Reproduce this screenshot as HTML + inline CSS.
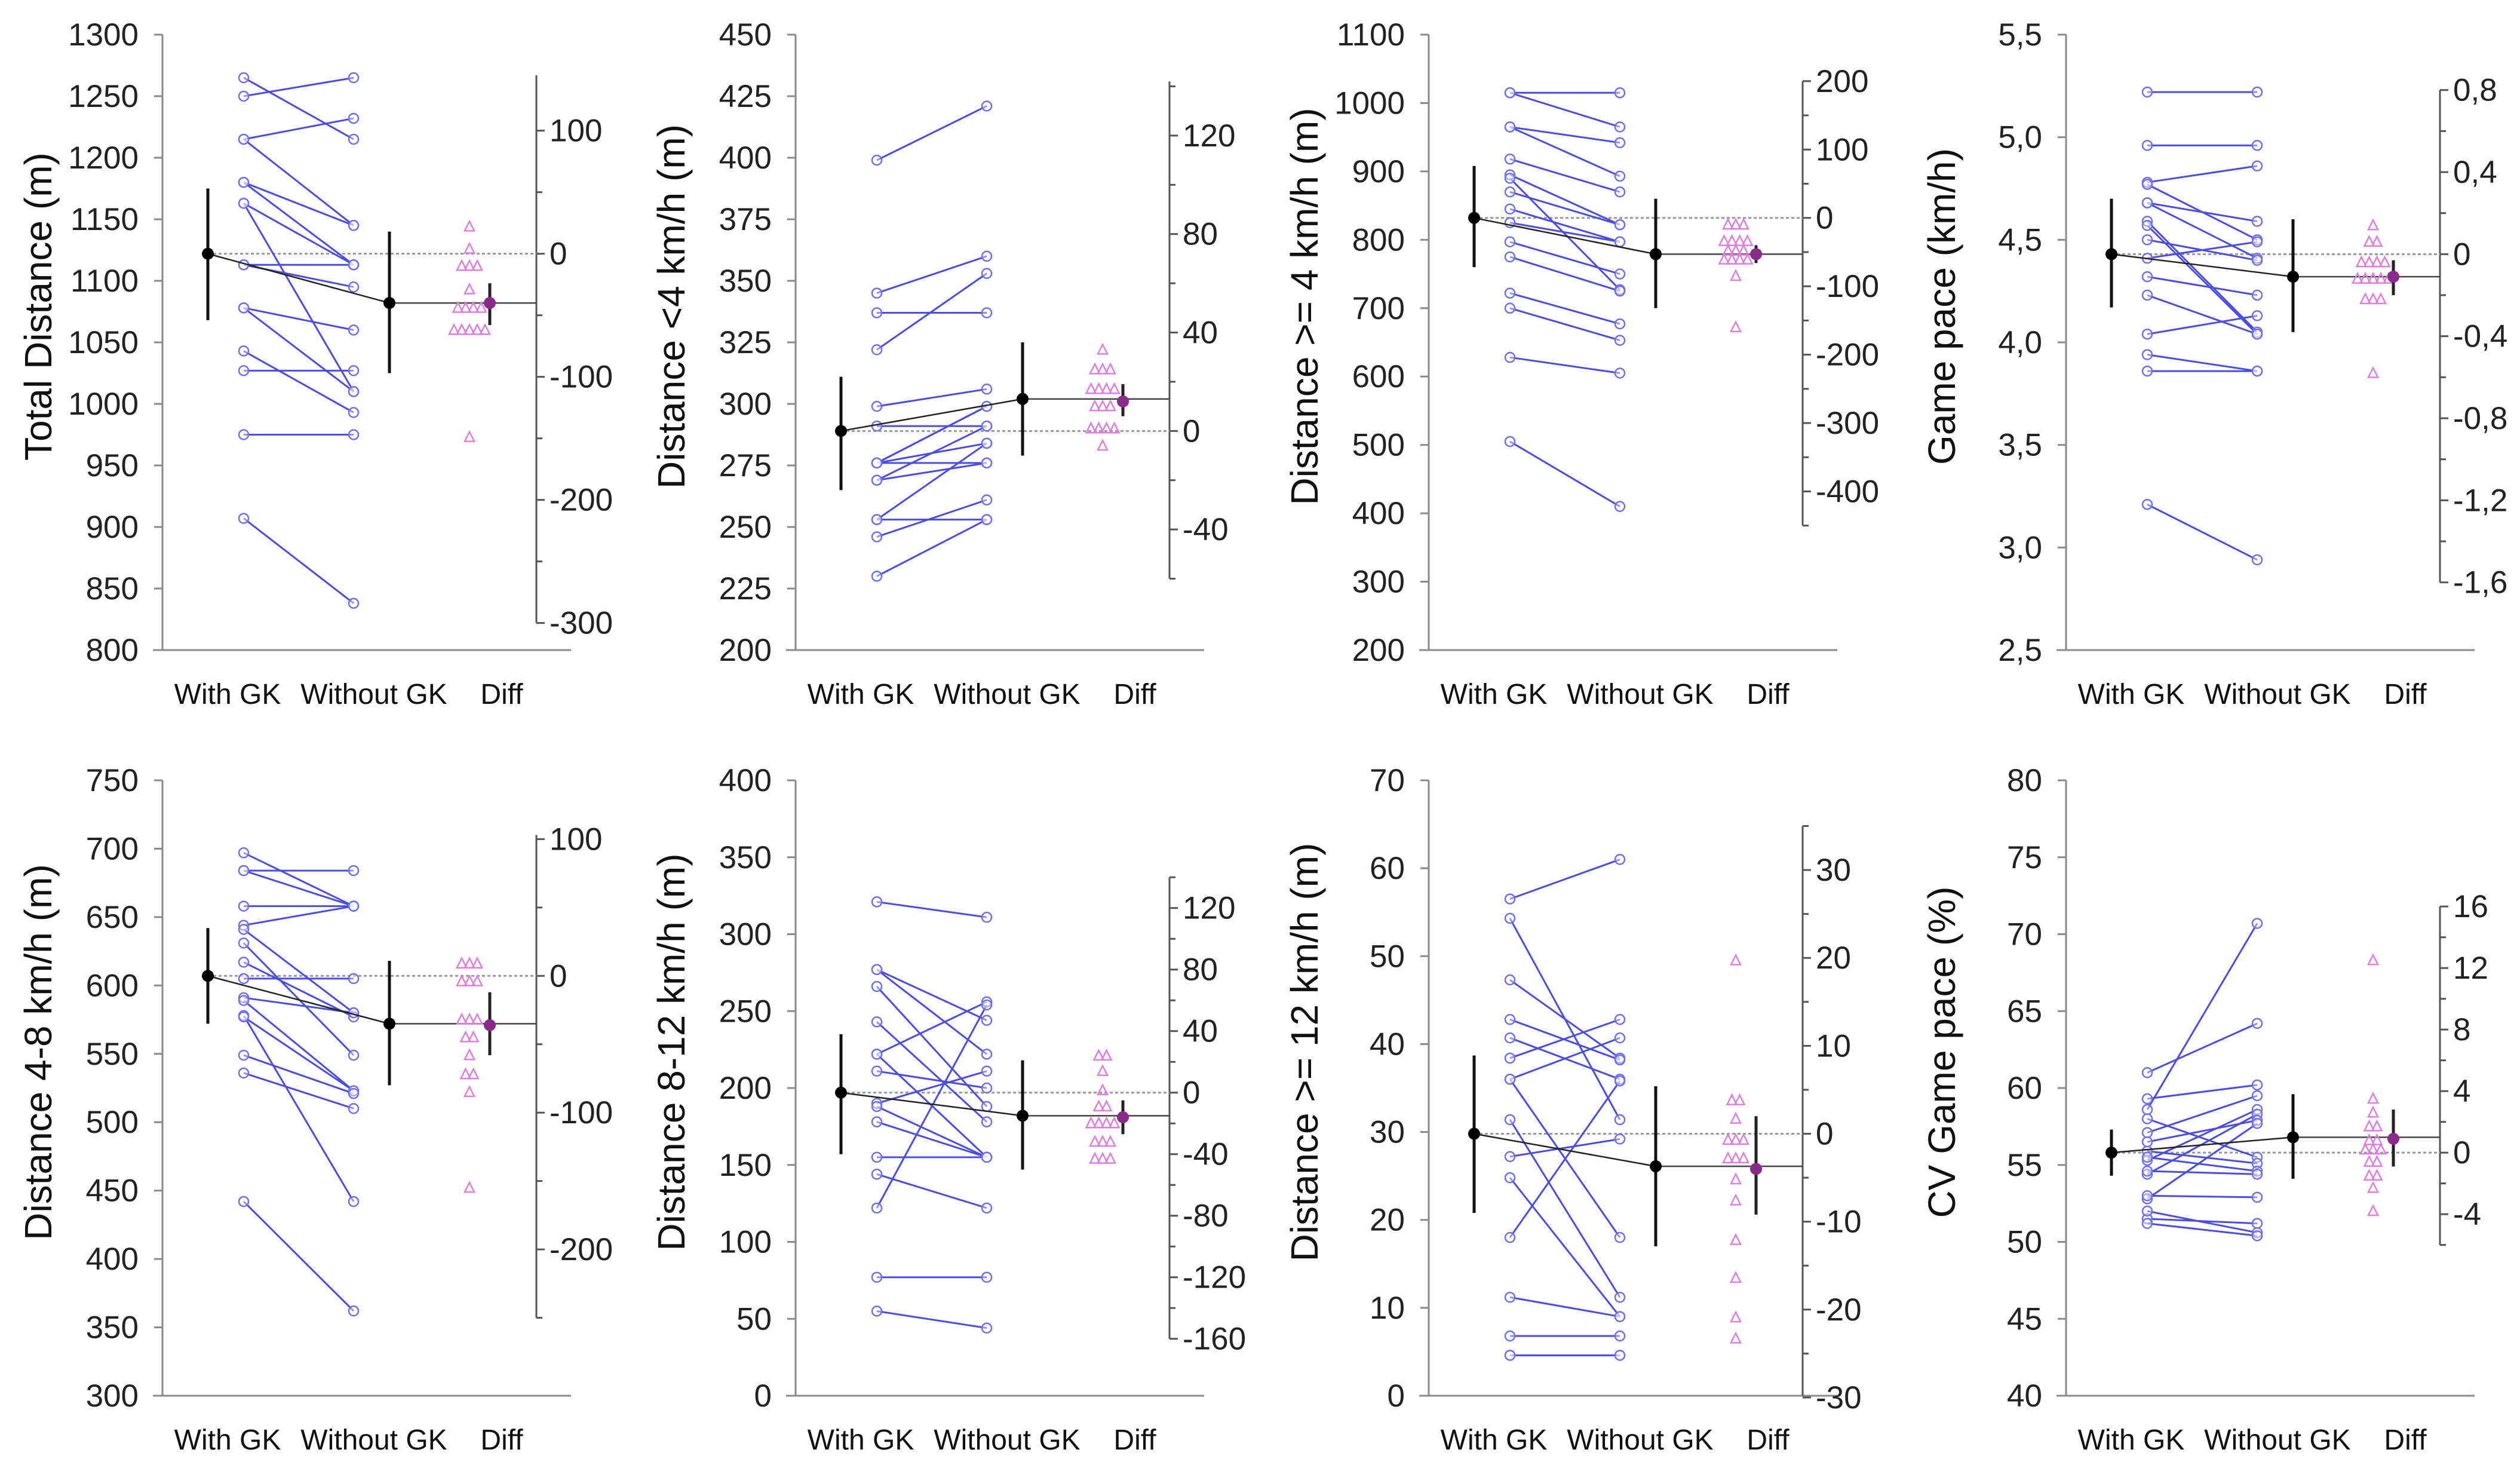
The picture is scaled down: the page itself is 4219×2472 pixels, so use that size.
<!DOCTYPE html>
<html><head><meta charset="utf-8">
<style>
html,body{margin:0;padding:0;background:#fff;}
svg{display:block;font-family:"Liberation Sans",sans-serif;}
</style></head>
<body>
<svg id="fig" width="4219" height="2472" viewBox="0 0 4219 2472" xmlns="http://www.w3.org/2000/svg">
<rect x="0" y="0" width="4219" height="2472" fill="#fff"/>
</svg>
<script>
// ---- data (per panel) ----
const categories = ["With GK", "Without GK", "Diff"];
const titles = ["Total Distance (m)", "Distance <4 km/h (m)", "Distance >= 4 km/h (m)", "Game pace (km/h)",
  "Distance 4-8 km/h (m)", "Distance 8-12 km/h (m)", "Distance >= 12 km/h (m)", "CV Game pace (%)"];

const with1 = [1265,1250,1215,1215,1180,1180,1163,1163,1113,1113,1078,1078,1043,1027,975,907];
const without1 = [1215,1265,1232,1145,1145,1113,1113,1010,1095,1113,1060,1010,993,1027,975,838];
const diff1 = [22,4,-10,-10,-10,-29,-44,-44,-44,-44,-62,-62,-62,-62,-62,-149];
const mean1 = [1122,1082,-40]; const lo1 = [1068,1025,-58]; const hi1 = [1175,1140,-24];

const with2 = [399,345,337,322,299,291,276,276,276,276,269,269,253,253,246,230];
const without2 = [421,360,337,353,306,291,299,299,276,284,291,276,284,253,261,253];
const diff2 = [33,25,25,25,17,17,17,17,10,10,10,1,1,1,1,-6];
const mean2 = [289,302,12]; const lo2 = [265,279,6]; const hi2 = [311,325,19];

const with3 = [1015,1015,965,965,918,895,890,870,845,825,797,775,722,700,628,505];
const without3 = [1015,965,942,893,870,822,727,822,797,797,750,725,677,653,605,410];
const diff3 = [-10,-10,-10,-34,-34,-34,-34,-48,-48,-48,-61,-61,-61,-61,-85,-160];
const mean3 = [832,779,-53]; const lo3 = [760,700,-66]; const hi3 = [908,860,-40];

const with4 = [5.22,4.96,4.78,4.77,4.68,4.68,4.59,4.57,4.50,4.41,4.32,4.23,4.04,3.94,3.86,3.21];
const without4 = [5.22,4.96,4.86,4.50,4.59,4.41,4.05,4.04,4.40,4.49,4.23,4.04,4.13,3.86,3.86,2.94];
const diff4 = [0.14,0.06,0.06,-0.04,-0.04,-0.04,-0.04,-0.12,-0.12,-0.12,-0.12,-0.12,-0.22,-0.22,-0.22,-0.58];
const mean4 = [4.43,4.32,-0.11]; const lo4 = [4.17,4.05,-0.2]; const hi4 = [4.70,4.60,-0.03];

const with5 = [697,684,684,658,644,641,631,617,605,591,589,578,577,549,536,442];
const without5 = [658,684,658,658,658,580,549,577,605,580,523,442,523,521,510,362];
const diff5 = [9,9,9,-4,-4,-4,-32,-32,-32,-45,-45,-58,-72,-72,-85,-155];
const mean5 = [607,572,-36]; const lo5 = [572,527,-58]; const hi5 = [642,618,-12];

const with6 = [321,277,277,266,243,222,222,211,190,188,178,155,144,122,77,55];
const without6 = [311,244,222,188,178,155,256,200,211,155,155,155,122,254,77,44];
const diff6 = [24,24,14,1.5,-9,-9,-20,-20,-20,-20,-32,-32,-32,-43,-43,-43];
const mean6 = [197,182,-16]; const lo6 = [157,147,-27]; const hi6 = [235,218,-5];

const with7 = [56.5,54.3,47.3,42.8,40.7,38.4,36,36,31.4,27.2,24.8,18,11.2,6.8,4.6,4.6];
const without7 = [61,31.4,38.4,38.2,36,42.8,40.7,18,11.2,29.2,9,35.8,9,6.8,4.6,4.6];
const diff7 = [19.7,3.8,3.8,1.7,-0.7,-0.7,-0.7,-2.8,-2.8,-2.8,-5.2,-7.6,-12.1,-16.4,-20.9,-23.3];
const mean7 = [29.8,26.1,-4]; const lo7 = [20.8,17,-9.2]; const hi7 = [38.7,35.2,2];

const with8 = [58.6,61,59.3,57.1,55.3,54.4,56.5,52.8,58,55.9,55.5,54.6,53,51.5,52,51.2];
const without8 = [70.7,64.2,60.2,59.5,58.6,58.3,57.9,57.7,55.5,55.1,54.6,54.4,52.9,51.2,50.6,50.4];
const diff8 = [12.5,3.5,2.6,1.7,1.7,0.8,0.8,0.2,0.2,0.2,-0.6,-0.6,-1.5,-1.5,-2.3,-3.8];
const mean8 = [55.8,56.8,0.9]; const lo8 = [54.3,54.1,-0.9]; const hi8 = [57.3,59.6,2.8];

const leftTicks = [[800,1300,50,0],[200,450,25,0],[200,1100,100,0],[2.5,5.5,0.5,1],[300,750,50,0],[0,400,50,0],[0,70,10,0],[40,80,5,0]];
const rightTicks = [[-300,145,100,50,0],[-60,142,40,20,0],[-450,200,100,50,0],[-1.6,0.8,0.4,0.2,1],[-250,103,100,50,0],[-160,140,40,20,0],[-30,35,10,5,0],[-6,16,4,2,0]];

const panels = [
 {w:with1,wo:without1,d:diff1,m:mean1,lo:lo1,hi:hi1},
 {w:with2,wo:without2,d:diff2,m:mean2,lo:lo2,hi:hi2},
 {w:with3,wo:without3,d:diff3,m:mean3,lo:lo3,hi:hi3},
 {w:with4,wo:without4,d:diff4,m:mean4,lo:lo4,hi:hi4},
 {w:with5,wo:without5,d:diff5,m:mean5,lo:lo5,hi:hi5},
 {w:with6,wo:without6,d:diff6,m:mean6,lo:lo6,hi:hi6},
 {w:with7,wo:without7,d:diff7,m:mean7,lo:lo7,hi:hi7},
 {w:with8,wo:without8,d:diff8,m:mean8,lo:lo8,hi:hi8}
];
const axisX = [272,1332,2392,3459];
const axisTop = [58,1306];
const H = 1030;

const NS = "http://www.w3.org/2000/svg";
const fig = document.getElementById("fig");
function mk(parent, tag, attrs){
  const e = document.createElementNS(NS, tag);
  for (const k in attrs) e.setAttribute(k, attrs[k]);
  parent.appendChild(e);
  return e;
}
function fmt(v, dec){
  if (Math.abs(v) < 1e-9) return "0";
  return v.toFixed(dec).replace(".", ",");
}

panels.forEach((p, i) => {
  const AX = axisX[i % 4], Y0 = axisTop[Math.floor(i / 4)];
  const [lmin, lmax, lstep, ldec] = leftTicks[i];
  const [rmin, rmax, rstep, rminor, rdec] = rightTicks[i];
  const yOf = v => Y0 + (lmax - v) / (lmax - lmin) * H;
  const yR = v => yOf(p.m[0] + v);
  const xWM = AX + 76, xWP = AX + 136, xWoP = AX + 320, xWoM = AX + 380, xDP = AX + 514, xDM = AX + 548, RX = AX + 626;

  const g = mk(fig, "g", {});
  
  

  const ya = mk(g, "line", {x1:AX, y1:Y0, x2:AX, y2:Y0 + H, stroke:"#8a8a8a", "stroke-width":3});
  
  
  const xa = mk(g, "line", {x1:AX - 16, y1:Y0 + H, x2:AX + 684, y2:Y0 + H, stroke:"#8a8a8a", "stroke-width":3});
  
  
  for (let v = lmin; v <= lmax + 1e-9; v += lstep) {
    const y = yOf(v);
    const t = mk(g, "line", {x1:AX - 14, y1:y, x2:AX, y2:y, stroke:"#8a8a8a", "stroke-width":3});
    
    
    const tx = mk(g, "text", {x:AX - 40, y:y + 18, "text-anchor":"end", "font-size":53, fill:"#222"});
    tx.textContent = fmt(v, ldec);
    
    
  }
  const yt = mk(g, "text", {x:0, y:0, "text-anchor":"middle", "font-size":64, fill:"#111",
    transform:`translate(${AX - 186},${Y0 + 455}) rotate(-90)`});
  yt.textContent = titles[i];
  
  
  const cx = [AX + 109, AX + 354, AX + 568];
  categories.forEach((c, k) => {
    const cl = mk(g, "text", {x:cx[k], y:Y0 + H + 90, "text-anchor":"middle", "font-size":48, fill:"#111"});
    cl.textContent = c;
    
    
  });

  const ryTop = yR(rmax), ryBot = Math.min(yR(rmin), Y0 + H);
  const ra = mk(g, "line", {x1:RX, y1:ryTop, x2:RX, y2:ryBot, stroke:"#555", "stroke-width":3});
  
  
  const nStart = Math.ceil(rmin / rminor - 1e-9), nEnd = Math.floor(rmax / rminor + 1e-9);
  for (let n = nStart; n <= nEnd; n++) {
    const v = n * rminor;
    const y = yR(v);
    const major = Math.abs(v / rstep - Math.round(v / rstep)) < 1e-6;
    const t = mk(g, "line", {x1:RX, y1:y, x2:RX + (major ? 14 : 10), y2:y, stroke:"#555", "stroke-width":3});
    
    
    if (major) {
      const tx = mk(g, "text", {x:RX + 22, y:y + 18, "font-size":53, fill:"#222"});
      tx.textContent = fmt(v, rdec);
      
      
    }
  }

  const r0 = mk(g, "line", {x1:xWM, y1:yOf(p.m[0]), x2:RX, y2:yOf(p.m[0]), stroke:"#999", "stroke-width":3, "stroke-dasharray":"5,4"});
  
  
  const r1 = mk(g, "line", {x1:xWoM, y1:yOf(p.m[1]), x2:RX, y2:yOf(p.m[1]), stroke:"#444", "stroke-width":2.5});
  
  

  p.w.forEach((v, k) => {
    const ln = mk(g, "line", {x1:xWP, y1:yOf(v), x2:xWoP, y2:yOf(p.wo[k]), stroke:"#4b4be6", "stroke-width":3});
    
    
  });
  p.w.forEach((v) => {
    const c = mk(g, "circle", {cx:xWP, cy:yOf(v), r:8, fill:"#fff", "fill-opacity":0.4, stroke:"#7070ee", "stroke-width":2.5});
    
    
  });
  p.wo.forEach((v) => {
    const c = mk(g, "circle", {cx:xWoP, cy:yOf(v), r:8, fill:"#fff", "fill-opacity":0.4, stroke:"#7070ee", "stroke-width":2.5});
    
    
  });

  const groups = {};
  p.d.forEach(v => { groups[v] = (groups[v] || 0) + 1; });
  const seen = {};
  p.d.forEach(v => {
    const cnt = groups[v]; const idx = seen[v] || 0; seen[v] = idx + 1;
    const x = xDP + (idx - (cnt - 1) / 2) * 13;
    const y = yR(v);
    const tr = mk(g, "polygon", {points:`${x},${y - 9} ${x - 8},${y + 7} ${x + 8},${y + 7}`, fill:"none", stroke:"#e07ee0", "stroke-width":2.5});
    
    
  });

  const ml = mk(g, "line", {x1:xWM, y1:yOf(p.m[0]), x2:xWoM, y2:yOf(p.m[1]), stroke:"#222", "stroke-width":2.5});
  
  
  [[xWM, 0], [xWoM, 1]].forEach(([x, k]) => {
    const eb = mk(g, "line", {x1:x, y1:yOf(p.lo[k]), x2:x, y2:yOf(p.hi[k]), stroke:"#111", "stroke-width":5});
    
    
    const md = mk(g, "circle", {cx:x, cy:yOf(p.m[k]), r:10, fill:"#000"});
    
    
  });
  const deb = mk(g, "line", {x1:xDM, y1:yR(p.lo[2]), x2:xDM, y2:yR(p.hi[2]), stroke:"#222", "stroke-width":5});
  
  
  const dm = mk(g, "circle", {cx:xDM, cy:yR(p.m[2]), r:10, fill:"#8a2a8a"});
  
  
});
</script>
</body></html>
